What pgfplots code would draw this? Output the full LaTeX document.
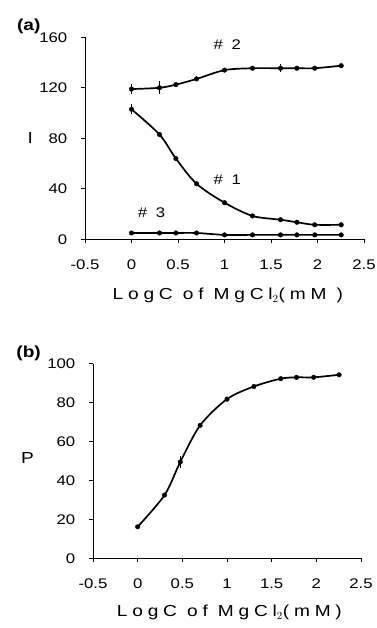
\documentclass[border=0pt]{standalone}
\usepackage{fontspec}
\setmainfont{Liberation Sans}[FakeStretch=1.2]
\newfontfamily\lsfont[FakeStretch=1.2]{Liberation Sans}
\newfontfamily\lbfont[FakeStretch=1.2, LetterSpace=30]{Liberation Sans}
\usepackage{pgfplots}
\pgfplotsset{compat=1.18}
\pgfplotstableread{
x a2 e2 a1 e1 a3 e3 p ep
0     119   4 103  4 5   0 16.2 1
0.301 120   5 83   1 5   0 32.5 1
0.477 122.5 0 64   1 5   0 49.5 3
0.699 127   2 44   0 5   0 68.3 1
1.0   134   0 29   0 3.5 0 81.8 0
1.301 135.5 0 18.5 0 3.5 0 88.3 0
1.602 135.5 3 15.5 0 3.5 0 92.3 0
1.778 135.5 0 13.5 0 3.5 0 93.0 0
1.97  135.5 0 11.5 0 3.5 0 93.0 0
2.255 137.5 0 11.5 0 3.5 0 94.3 0
}\data
\pgfplotsset{
  mystyle/.style={
    scale only axis,
    anchor=south west,
    axis x line*=bottom, axis y line*=left,
    x axis line style={-}, y axis line style={-},
    tick align=outside, major tick length=4bp,
    tick style={black, line width=0.8pt},
    axis line style={line width=0.8pt},
    xmin=-0.5, xmax=2.5,
    xtick={-0.5,0,0.5,1,1.5,2,2.5},
    /pgf/number format/assume math mode=true,
    tick label style={font=\lsfont\fontsize{14}{16}\selectfont, inner sep=0.5pt},
    yticklabel style={xshift=-13bp},
    xticklabel style={yshift=-16bp},
    label style={font=\lbfont\fontsize{16}{18}\selectfont, inner sep=0.5pt},
    clip=false,
  },
  curve/.style={black, line width=1.7pt, smooth, tension=0.5, mark=*, mark size=2.3pt,
    mark options={line width=0.4pt},
    error bars/.cd, y dir=both, y explicit, error mark=none, error bar style={line width=1.2pt}},
}
\begin{document}
\begin{tikzpicture}
\useasboundingbox (0,0) rectangle (377bp,628bp);
\begin{axis}[mystyle,
  at={(85bp,388.7bp)}, width=279bp, height=202bp,
  ymin=0, ymax=160, ytick={0,40,80,120,160},
  xlabel={LogC of MgCl$_2$(mM )},
  xlabel style={at={(axis description cs:0.512,-0.3)}, anchor=base},
  ylabel={I},
  ylabel style={at={(axis description cs:-0.196,0.5)}, anchor=center, rotate=-90},
]
\addplot[curve] table[x=x, y=a2, y error=e2] {\data};
\addplot[curve] table[x=x, y=a1, y error=e1] {\data};
\addplot[curve] table[x=x, y=a3, y error=e3] {\data};
\node[font=\lbfont\fontsize{14}{16}\selectfont] at (axis cs:1.03,153.9) {\# 2};
\node[font=\lbfont\fontsize{14}{16}\selectfont] at (axis cs:1.03,47) {\# 1};
\node[font=\lbfont\fontsize{14}{16}\selectfont] at (axis cs:0.215,20.8) {\# 3};
\node[anchor=base west, font=\bfseries\fontsize{16}{18}\selectfont] at (axis description cs:-0.256,1.036) {(a)};
\end{axis}
\begin{axis}[mystyle,
  at={(93bp,69.7bp)}, width=268bp, height=194.6bp,
  ymin=0, ymax=100, ytick={0,20,40,60,80,100},
  xlabel={LogC of MgCl$_2$(mM)},
  xlabel style={at={(axis description cs:0.509,-0.3)}, anchor=base},
  ylabel={P},
  ylabel style={at={(axis description cs:-0.244,0.514)}, anchor=center, rotate=-90},
]
\addplot[curve] table[x=x, y=p, y error=ep] {\data};
\node[anchor=base west, font=\bfseries\fontsize{16}{18}\selectfont] at (axis description cs:-0.299,1.034) {(b)};
\end{axis}
\end{tikzpicture}
\end{document}
